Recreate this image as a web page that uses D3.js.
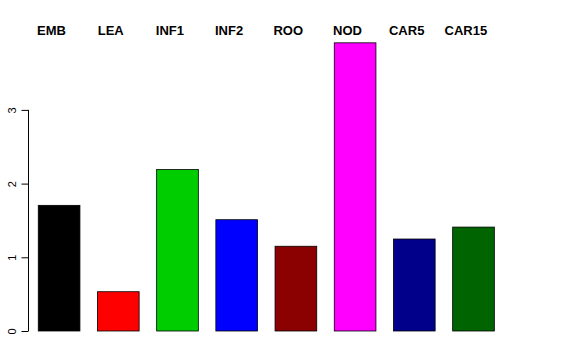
<!DOCTYPE html>
<html><head><meta charset="utf-8">
<script src="https://cdn.jsdelivr.net/npm/d3@7"></script>
<style>body{margin:0;background:#fff}svg{display:block}</style>
</head><body>
<script>
const categories = ["EMB","LEA","INF1","INF2","ROO","NOD","CAR5","CAR15"];
const values = [1.705, 0.533, 2.19, 1.51, 1.15, 3.91, 1.248, 1.41];
const colors = ["#000000","#ff0000","#00cd00","#0000ff","#8b0000","#ff00ff","#00008b","#006400"];
const yTicks = [0,1,2,3];

const W=576,H=360;
const svg=d3.select("body").append("svg").attr("width",W).attr("height",H);
const x=d3.scaleBand().domain(categories).range([29.5,503.1]).paddingInner(0.296).paddingOuter(0.148);
const y=d3.scaleLinear().domain([0,1]).range([331,257.3]);

svg.selectAll("rect.bar").data(categories).enter().append("rect")
  .attr("x",d=>x(d)).attr("width",x.bandwidth())
  .attr("y",(d,i)=>y(values[i])).attr("height",(d,i)=>y(0)-y(values[i]))
  .attr("fill",(d,i)=>colors[i]).attr("stroke","#000").attr("stroke-width",0.8);

const ax=svg.append("g").attr("transform","translate(28.5,0)")
  .call(d3.axisLeft(y).tickValues(yTicks).tickSize(7).tickPadding(0).tickFormat(d3.format("d")));
ax.select(".domain").attr("d",`M0,${y(0)}V${y(3)}`).attr("stroke","#000");
ax.selectAll(".tick line").attr("stroke","#000");
ax.selectAll(".tick text").attr("transform","translate(-17,0) rotate(-90)")
  .attr("x",0).attr("dy",0).attr("text-anchor","middle").attr("dominant-baseline","auto")
  .attr("y",4).style("font-family","Liberation Sans, Arial, sans-serif").style("font-size","11px").attr("fill","#000");

svg.selectAll("text.lab").data(categories).enter().append("text")
  .attr("x",d=>x(d)+x.bandwidth()/2-7.6).attr("y",35)
  .attr("text-anchor","middle").style("font-family","Liberation Sans, Arial, sans-serif")
  .style("font-weight","bold").style("font-size","13px").text(d=>d);
</script>
</body></html>
